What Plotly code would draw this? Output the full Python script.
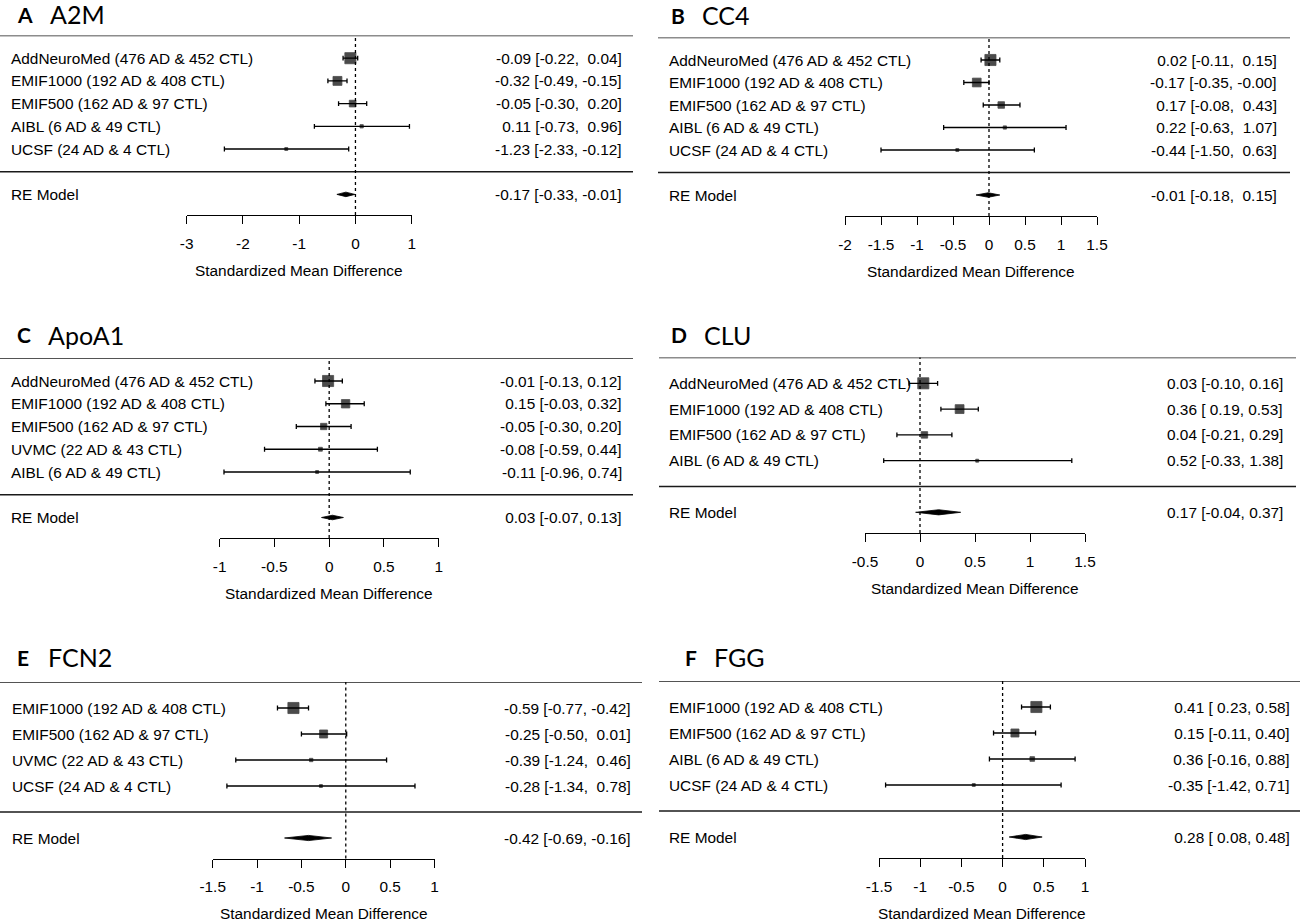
import plotly.graph_objects as go

W, H = 1300, 921
FONT = "Liberation Sans, Arial, sans-serif"
TFONT = "Lato, Open Sans, sans-serif"
FS = 15.4

# ---------------- data ----------------
a_studies = ["AddNeuroMed (476 AD & 452 CTL)", "EMIF1000 (192 AD & 408 CTL)",
             "EMIF500 (162 AD & 97 CTL)", "AIBL (6 AD & 49 CTL)", "UCSF (24 AD & 4 CTL)"]
a_est = [-0.09, -0.32, -0.05, 0.11, -1.23]
a_lo = [-0.22, -0.49, -0.30, -0.73, -2.33]
a_hi = [0.04, -0.15, 0.20, 0.96, -0.12]
a_re = [-0.17, -0.33, -0.01]
a_ticks = [-3, -2, -1, 0, 1]

b_studies = ["AddNeuroMed (476 AD & 452 CTL)", "EMIF1000 (192 AD & 408 CTL)",
             "EMIF500 (162 AD & 97 CTL)", "AIBL (6 AD & 49 CTL)", "UCSF (24 AD & 4 CTL)"]
b_est = [0.02, -0.17, 0.17, 0.22, -0.44]
b_lo = [-0.11, -0.35, -0.08, -0.63, -1.50]
b_hi = [0.15, -0.0, 0.43, 1.07, 0.63]
b_re = [-0.01, -0.18, 0.15]
b_ticks = [-2, -1.5, -1, -0.5, 0, 0.5, 1, 1.5]

c_studies = ["AddNeuroMed (476 AD & 452 CTL)", "EMIF1000 (192 AD & 408 CTL)",
             "EMIF500 (162 AD & 97 CTL)", "UVMC (22 AD & 43 CTL)", "AIBL (6 AD & 49 CTL)"]
c_est = [-0.01, 0.15, -0.05, -0.08, -0.11]
c_lo = [-0.13, -0.03, -0.30, -0.59, -0.96]
c_hi = [0.12, 0.32, 0.20, 0.44, 0.74]
c_re = [0.03, -0.07, 0.13]
c_ticks = [-1, -0.5, 0, 0.5, 1]

d_studies = ["AddNeuroMed (476 AD & 452 CTL)", "EMIF1000 (192 AD & 408 CTL)",
             "EMIF500 (162 AD & 97 CTL)", "AIBL (6 AD & 49 CTL)"]
d_est = [0.03, 0.36, 0.04, 0.52]
d_lo = [-0.10, 0.19, -0.21, -0.33]
d_hi = [0.16, 0.53, 0.29, 1.38]
d_re = [0.17, -0.04, 0.37]
d_ticks = [-0.5, 0, 0.5, 1, 1.5]

e_studies = ["EMIF1000 (192 AD & 408 CTL)", "EMIF500 (162 AD & 97 CTL)",
             "UVMC (22 AD & 43 CTL)", "UCSF (24 AD & 4 CTL)"]
e_est = [-0.59, -0.25, -0.39, -0.28]
e_lo = [-0.77, -0.50, -1.24, -1.34]
e_hi = [-0.42, 0.01, 0.46, 0.78]
e_re = [-0.42, -0.69, -0.16]
e_ticks = [-1.5, -1, -0.5, 0, 0.5, 1]

f_studies = ["EMIF1000 (192 AD & 408 CTL)", "EMIF500 (162 AD & 97 CTL)",
             "AIBL (6 AD & 49 CTL)", "UCSF (24 AD & 4 CTL)"]
f_est = [0.41, 0.15, 0.36, -0.35]
f_lo = [0.23, -0.11, -0.16, -1.42]
f_hi = [0.58, 0.40, 0.88, 0.71]
f_re = [0.28, 0.08, 0.48]
f_ticks = [-1.5, -1, -0.5, 0, 0.5, 1]

panel_letters = ["A", "B", "C", "D", "E", "F"]
panel_names = ["A2M", "CC4", "ApoA1", "CLU", "FCN2", "FGG"]
x_label = "Standardized Mean Difference"

data = [
    (a_studies, a_est, a_lo, a_hi, a_re, a_ticks),
    (b_studies, b_est, b_lo, b_hi, b_re, b_ticks),
    (c_studies, c_est, c_lo, c_hi, c_re, c_ticks),
    (d_studies, d_est, d_lo, d_hi, d_re, d_ticks),
    (e_studies, e_est, e_lo, e_hi, e_re, e_ticks),
    (f_studies, f_est, f_lo, f_hi, f_re, f_ticks),
]

# ---------------- layout geometry (pixels) ----------------
geom = [
    dict(lx=15, nx=48, ty=14, l0=0, l1=633, labx=9, valx=624, ax0=186.7, ax1=411.7, row1=149, s=22.7, axpx=215),
    dict(lx=669, nx=700, ty=15, l0=658, l1=1290, labx=667.5, valx=1279, ax0=845, ax1=1097, row1=150, s=22.5, axpx=216),
    dict(lx=15, nx=46, ty=335, l0=0, l1=633, labx=9, valx=624, ax0=219.6, ax1=438.75, row1=472, s=22.75, axpx=538),
    dict(lx=669, nx=702, ty=335, l0=659, l1=1296, labx=667.5, valx=1285, ax0=865, ax1=1085, row1=460.7, s=25.8, axpx=533),
    dict(lx=15, nx=46, ty=657, l0=0, l1=642, labx=10, valx=633, ax0=212.7, ax1=434.5, row1=786, s=26, axpx=858.5),
    dict(lx=683, nx=712, ty=657, l0=659, l1=1300, labx=667.5, valx=1292, ax0=879, ax1=1085, row1=785, s=26, axpx=858),
]

NB = "\u00a0"


def fmt_col(vals):
    s = ["%.2f" % v for v in vals]
    w = max(len(t) for t in s)
    return [NB * (w - len(t)) + t for t in s]


def psizes(lo, hi):
    wi = [(2 * 1.96 / (h - l)) for l, h in zip(lo, hi)]  # sqrt of inverse variance
    mn, mx = min(wi), max(wi)
    return [((w - mn) / (mx - mn)) * 1.1 + 0.4 for w in wi]


fig = go.Figure()
shapes = []
annotations = []
BLACK = "#000000"
LINEC = "#1a1a1a"

for i, ((studies, est, lo, hi, re, ticks), g) in enumerate(zip(data, geom)):
    n = i + 1
    xa = "x" if n == 1 else f"x{n}"
    ya = "y" if n == 1 else f"y{n}"
    k = len(studies)
    rows = [k - j for j in range(k)]
    re_row = -1
    top_px = g["row1"] - k * g["s"]
    ax_row = 1 - (g["axpx"] - g["row1"]) / g["s"]

    fig.layout[("xaxis" if n == 1 else f"xaxis{n}")] = dict(
        domain=[g["ax0"] / W, g["ax1"] / W], range=[ticks[0], ticks[-1]],
        anchor=ya, showline=True, linecolor=BLACK, linewidth=1.2,
        ticks="outside", ticklen=8, tickwidth=1.2, tickcolor=BLACK,
        tickvals=ticks, ticktext=["%g" % t for t in ticks],
        tickfont=dict(family=FONT, size=FS, color=BLACK),
        ticklabelstandoff=6, automargin=False,
        showgrid=False, zeroline=False, fixedrange=True,
    )
    fig.layout[("yaxis" if n == 1 else f"yaxis{n}")] = dict(
        domain=[1 - g["axpx"] / H, 1 - top_px / H], range=[ax_row, k + 1],
        anchor=xa, visible=False, fixedrange=True, automargin=False,
    )

    ps = psizes(lo, hi)
    fig.add_trace(go.Scatter(
        x=est, y=rows, xaxis=xa, yaxis=ya, mode="markers",
        marker=dict(symbol="square", color=BLACK, size=[7.4 * p for p in ps],
                    line=dict(width=0.8, color=BLACK)),
        error_x=dict(type="data", symmetric=False,
                     array=[h - e for e, h in zip(est, hi)],
                     arrayminus=[e - l for e, l in zip(est, lo)],
                     color=BLACK, thickness=1.3, width=2.4),
        cliponaxis=False, showlegend=False, hoverinfo="skip",
    ))
    dh = 0.1
    fig.add_trace(go.Scatter(
        x=[re[1], re[0], re[2], re[0], re[1]],
        y=[re_row, re_row + dh, re_row, re_row - dh, re_row],
        xaxis=xa, yaxis=ya, mode="lines", fill="toself", fillcolor=BLACK,
        line=dict(color=BLACK, width=0.8), cliponaxis=False,
        showlegend=False, hoverinfo="skip",
    ))

    for yy in (k + 1, 0):
        shapes.append(dict(type="line", xref="paper", yref=ya, x0=g["l0"] / W, x1=g["l1"] / W,
                           y0=yy, y1=yy, line=dict(color=LINEC, width=1.4)))
    shapes.append(dict(type="line", xref=xa, yref=f"{ya} domain", x0=0, x1=0, y0=0, y1=1,
                       line=dict(color=BLACK, width=1.3, dash="dot")))

    ecol = fmt_col(est + [re[0]])
    lcol = fmt_col(lo + [re[1]])
    hcol = fmt_col(hi + [re[2]])
    labels = studies + ["RE Model"]
    yrows = rows + [re_row]
    for lab, yy, e_s, l_s, h_s in zip(labels, yrows, ecol, lcol, hcol):
        annotations.append(dict(text=lab, xref="paper", yref=ya, x=g["labx"] / W, y=yy,
                                xanchor="left", yanchor="middle", showarrow=False,
                                font=dict(family=FONT, size=FS, color=BLACK)))
        annotations.append(dict(text=f"{e_s}{NB}[{l_s},{NB}{h_s}]", xref="paper", yref=ya,
                                x=g["valx"] / W, y=yy, xanchor="right", yanchor="middle",
                                showarrow=False, font=dict(family=FONT, size=FS, color=BLACK)))
    annotations.append(dict(text=x_label, xref=f"{xa} domain", yref="paper", x=0.5,
                            y=1 - (g["axpx"] + 55) / H, xanchor="center", yanchor="middle",
                            showarrow=False, font=dict(family=FONT, size=FS, color=BLACK)))
    annotations.append(dict(text=f"<b>{panel_letters[i]}</b>", xref="paper", yref="paper",
                            x=g["lx"] / W, y=1 - g["ty"] / H, xanchor="left", yanchor="middle",
                            showarrow=False, font=dict(family=TFONT, size=21, color=BLACK)))
    annotations.append(dict(text=panel_names[i], xref="paper", yref="paper",
                            x=g["nx"] / W, y=1 - g["ty"] / H, xanchor="left", yanchor="middle",
                            showarrow=False, font=dict(family=TFONT, size=25, color=BLACK)))

fig.update_layout(
    width=W, height=H, margin=dict(l=0, r=0, t=0, b=0, pad=0, autoexpand=False),
    paper_bgcolor="white", plot_bgcolor="rgba(0,0,0,0)",
    shapes=shapes, annotations=annotations, showlegend=False,
    font=dict(family=FONT, size=FS, color=BLACK),
)

fig.write_html(
    "out.html",
    config={"displayModeBar": False, "responsive": False},
    post_script="document.body.style.margin='0';document.body.style.padding='0';"
                "document.documentElement.style.overflow='hidden';",
)
